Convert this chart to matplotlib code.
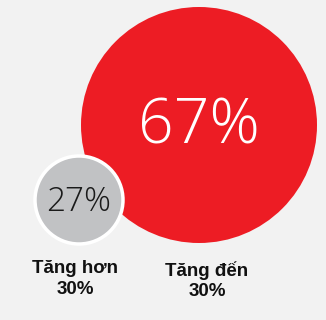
import matplotlib.pyplot as plt
from matplotlib.patches import Circle

values = [67, 27]
labels = ['Tăng đến\n30%', 'Tăng hơn\n30%']
colors = ['#ed1c24', '#c1c2c4']
text_colors = ['white', '#1a1a1a']

# circle layout in pixel units (x, y, r)
centers = [(199, 125), (79, 200)]
radii = [118, 44]
label_pos = [(207, 281), (75, 279)]
font_sizes = [45, 24]

fig = plt.figure(figsize=(3.26, 3.20), dpi=100)
fig.patch.set_facecolor('#f2f2f2')
ax = fig.add_axes([0, 0, 1, 1])
ax.set_xlim(0, 326)
ax.set_ylim(320, 0)
ax.set_facecolor('#f2f2f2')
ax.axis('off')

for i, v in enumerate(values):
    x, y = centers[i]
    ec = 'none' if i == 0 else 'white'
    ax.add_patch(Circle((x, y), radii[i], facecolor=colors[i], edgecolor=ec,
                        linewidth=2.5, zorder=2 + i))
    ax.text(x, y + 2, f'{v}%', color=text_colors[i], fontsize=font_sizes[i],
            family='Open Sans', fontweight='light', ha='center', va='center',
            zorder=5)
    lx, ly = label_pos[i]
    ax.text(lx, ly, labels[i], fontsize=13.5, fontweight='bold',
            family='Liberation Sans', ha='center', va='center',
            linespacing=1.25, color='#111111', zorder=5)

fig.savefig('out.png', dpi=100, facecolor=fig.get_facecolor())
